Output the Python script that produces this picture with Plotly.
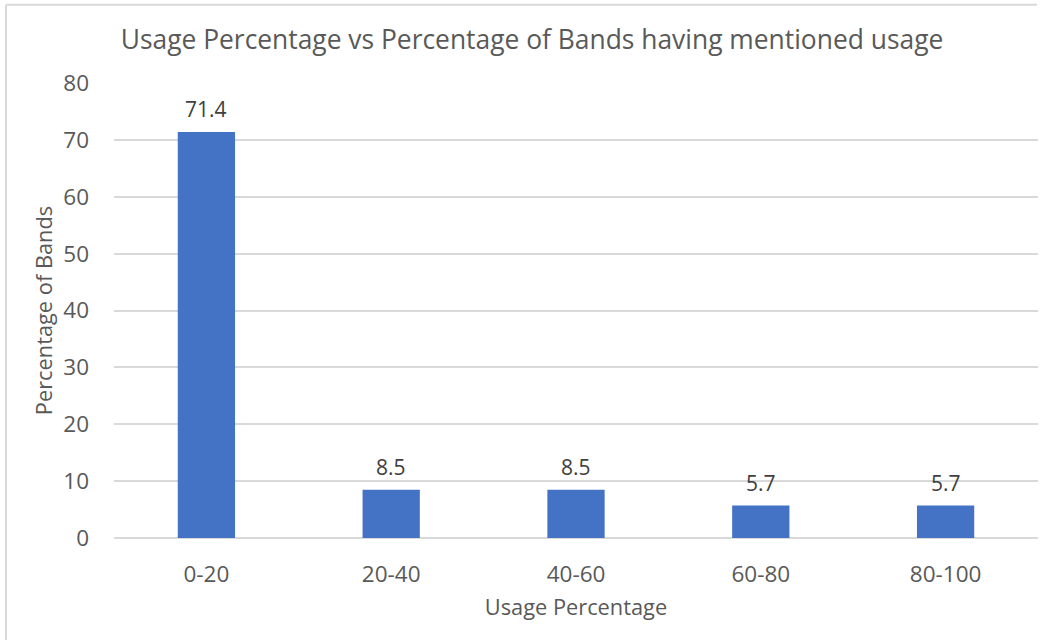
import plotly.graph_objects as go

categories = ["0-20", "20-40", "40-60", "60-80", "80-100"]
values = [71.4, 8.5, 8.5, 5.7, 5.7]
labels = ["71.4", "8.5", "8.5", "5.7", "5.7"]
y_ticks = [0, 10, 20, 30, 40, 50, 60, 70, 80]

FONT = "Open Sans"
TXT = "#595959"

fig = go.Figure()
fig.add_trace(go.Bar(x=categories, y=values, marker=dict(color="#4472C4", line=dict(width=0)),
                     hoverinfo="x+y"))

for c, v, t in zip(categories, values, labels):
    fig.add_annotation(x=c, y=v, text=t, showarrow=False, yanchor="bottom", yshift=7,
                       font=dict(family=FONT, size=21, color="#404040"))

fig.update_layout(
    width=1046, height=640,
    margin=dict(l=114, r=8, t=83, b=102),
    paper_bgcolor="white", plot_bgcolor="white",
    bargap=0.69,
    showlegend=False,
    title=dict(text="Usage Percentage vs Percentage of Bands having mentioned usage",
               x=532 / 1046, xanchor="center", xref="container",
               y=1 - 40 / 640, yanchor="middle", yref="container",
               font=dict(family=FONT, size=26.4, color=TXT)),
    xaxis=dict(title=dict(text="Usage Percentage", font=dict(family=FONT, size=21.8, color=TXT), standoff=12),
               tickfont=dict(family=FONT, size=22.5, color=TXT), showgrid=False, showline=False,
               ticks="", ticklabelstandoff=20),
    yaxis=dict(title=dict(text="Percentage of Bands", font=dict(family=FONT, size=21.8, color=TXT), standoff=4),
               range=[0, 80], tickvals=y_ticks, tickfont=dict(family=FONT, size=22.5, color=TXT),
               showgrid=True, gridcolor="#D9D9D9", gridwidth=1.5, zeroline=True, zerolinecolor="#D9D9D9",
               zerolinewidth=1.5, showline=False, ticks="", ticklabelstandoff=24),
    shapes=[
        dict(type="line", xref="paper", yref="paper", x0=(6 - 114) / 924, x1=(6 - 114) / 924,
             y0=(538.3 - 5) / 455, y1=(538.3 - 645) / 455, line=dict(color="#D9D9D9", width=2)),
        dict(type="line", xref="paper", yref="paper", x0=(6 - 114) / 924, x1=(1037 - 114) / 924,
             y0=(538.3 - 5) / 455, y1=(538.3 - 5) / 455, line=dict(color="#D9D9D9", width=2)),
    ],
)

fig.write_html("out.html")
